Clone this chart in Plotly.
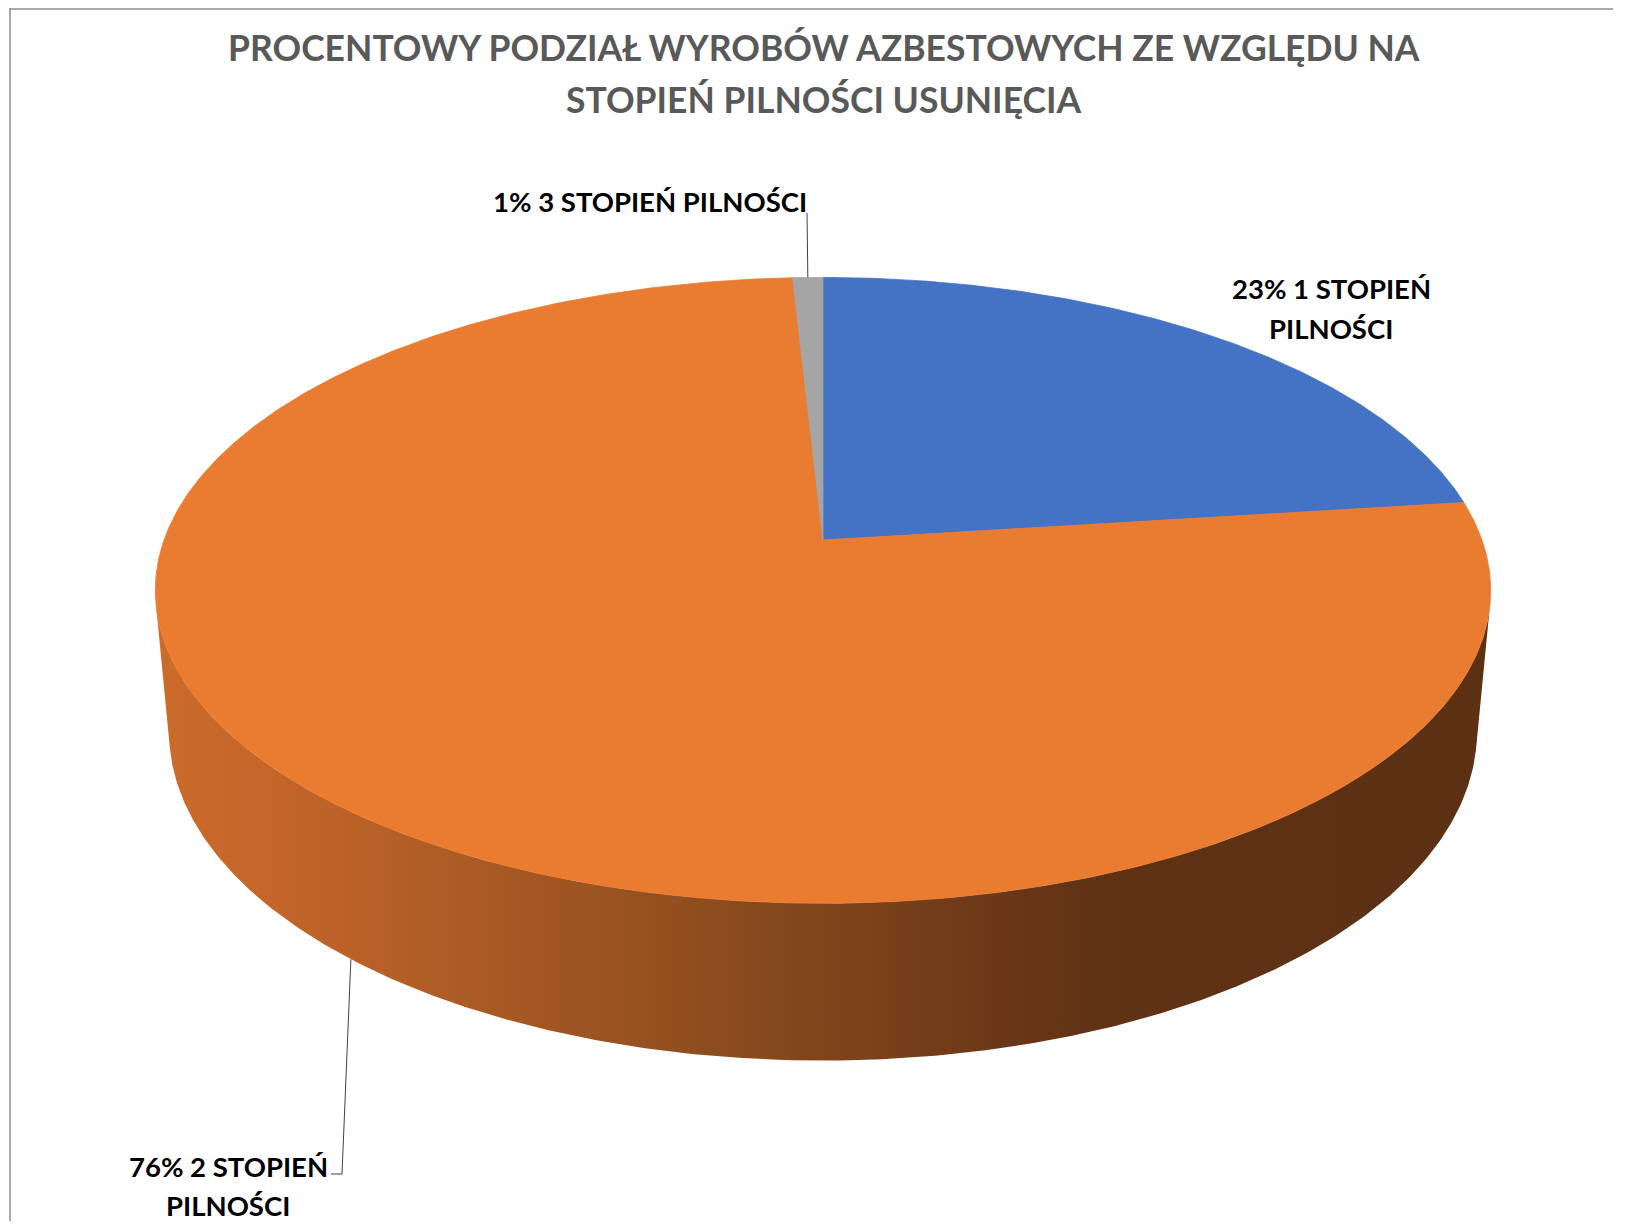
import numpy as np
import plotly.graph_objects as go

# ---------------- data ----------------
categories = ["1 STOPIEŃ PILNOŚCI", "2 STOPIEŃ PILNOŚCI", "3 STOPIEŃ PILNOŚCI"]
values = [23.0, 76.15, 0.85]
title_lines = ["PROCENTOWY PODZIAŁ WYROBÓW AZBESTOWYCH ZE WZGLĘDU NA",
               "STOPIEŃ PILNOŚCI USUNIĘCIA"]

# ---------------- style ----------------
top_colors = ["#4472C4", "#E97C30", "#A5A5A5"]
side_scales = [
    [[0, "#3A62A8"], [1, "#1F3560"]],
    [[0.0, "#CB6C2B"], [0.09, "#C4652A"], [0.38, "#93501F"], [0.64, "#6A3717"],
     [0.71, "#5F3214"], [1.0, "#5C3013"]],
    [[0, "#8C8C8C"], [1, "#5A5A5A"]],
]
FONT = "Lato"

# page compensation for the 8px body margin
PAD = 8
W, Hh = 1627, 1229
FIG_W = W - 2 * PAD
FIG_H = Hh - 2 * PAD

# 3D projection parameters (pixel space)
CX, CY = 823.0, 540.0
FR = 659.0          # projected radius scale
RR = 0.1815         # radius / camera distance
DEPTH = 0.0443      # thickness / camera distance
ALPHA = np.arcsin(0.4626)
FF = FR / RR


def project(theta_deg, depth):
    th = np.radians(theta_deg)
    x = RR * np.sin(th)
    w = RR * np.cos(th)
    y = -depth
    z = 1 - y * np.sin(ALPHA) + w * np.cos(ALPHA)
    Y = y * np.cos(ALPHA) + w * np.sin(ALPHA)
    return CX + FF * x / z, CY - FF * Y / z


total = sum(values)
bounds = np.concatenate([[0], np.cumsum(values)]) / total * 360.0
sil = np.degrees(np.arccos(-RR / np.cos(ALPHA)))
sil_lo, sil_hi = sil, 360 - sil

fig = go.Figure()

# side walls
for i, (a0, a1) in enumerate(zip(bounds[:-1], bounds[1:])):
    lo, hi = max(a0, sil_lo), min(a1, sil_hi)
    if lo >= hi:
        continue
    th = np.linspace(lo, hi, 300)
    tx, ty = project(th, 0)
    bx, by = project(th[::-1], DEPTH)
    xs = np.concatenate([tx, bx, tx[:1]])
    ys = np.concatenate([ty, by, ty[:1]])
    fig.add_trace(go.Scatter(
        x=xs, y=ys, mode="lines", line=dict(width=0),
        fill="toself",
        fillgradient=dict(type="horizontal", colorscale=side_scales[i]),
        hoverinfo="skip", showlegend=False))

# top face slices
for i, (a0, a1) in enumerate(zip(bounds[:-1], bounds[1:])):
    th = np.linspace(a0, a1, max(int((a1 - a0) * 3), 4))
    ax, ay = project(th, 0)
    xs = np.concatenate([[CX], ax, [CX]])
    ys = np.concatenate([[CY], ay, [CY]])
    fig.add_trace(go.Scatter(
        x=xs, y=ys, mode="lines", line=dict(width=0.8, color=top_colors[i]),
        fill="toself", fillcolor=top_colors[i],
        hoverinfo="skip", showlegend=False))

# ---------------- labels ----------------
pct = [f"{round(v / total * 100):d}%" for v in values]
lab_font = dict(family=FONT, size=27.5, color="#000000", weight="bold")


def add_lines(lines, x, y0, step, font):
    for k, t in enumerate(lines):
        fig.add_annotation(x=x, y=y0 + k * step, text=t, showarrow=False, font=font,
                           xanchor="center", yanchor="middle")


add_lines([f"{pct[0]} 1 STOPIEŃ", "PILNOŚCI"], 1331, 288, 40, lab_font)
add_lines([f"{pct[1]} 2 STOPIEŃ", "PILNOŚCI"], 228, 1166, 39, lab_font)
add_lines([f"{pct[2]} 3 STOPIEŃ PILNOŚCI"], 650, 201, 40, lab_font)

# leader lines
gx, gy = project((bounds[2] + bounds[3]) / 2, 0)
fig.add_trace(go.Scatter(x=[807, float(gx)], y=[213, float(gy)], mode="lines",
                         line=dict(color="#404040", width=1),
                         hoverinfo="skip", showlegend=False))
ox, oy = project(220, DEPTH)
fig.add_trace(go.Scatter(x=[331, 342, float(ox)], y=[1174, 1174, float(oy)], mode="lines",
                         line=dict(color="#404040", width=1),
                         hoverinfo="skip", showlegend=False))

# title
add_lines(title_lines, 824, 47, 52,
          dict(family=FONT, size=35.5, color="#595959", weight="bold"))

# chart border (top + left visible)
fig.add_shape(type="line", x0=10, x1=10, y0=PAD, y1=PAD + FIG_H,
              line=dict(color="#8C8C8C", width=1.5))
fig.add_shape(type="line", x0=10, x1=1613, y0=PAD + 1, y1=PAD + 1,
              line=dict(color="#8C8C8C", width=1.5))

fig.update_layout(
    width=FIG_W, height=FIG_H,
    margin=dict(l=0, r=0, t=0, b=0),
    paper_bgcolor="white", plot_bgcolor="white",
    xaxis=dict(range=[PAD, PAD + FIG_W], visible=False, fixedrange=True),
    yaxis=dict(range=[PAD + FIG_H, PAD], visible=False, fixedrange=True),
    showlegend=False,
)

fig.write_html("out.html")
